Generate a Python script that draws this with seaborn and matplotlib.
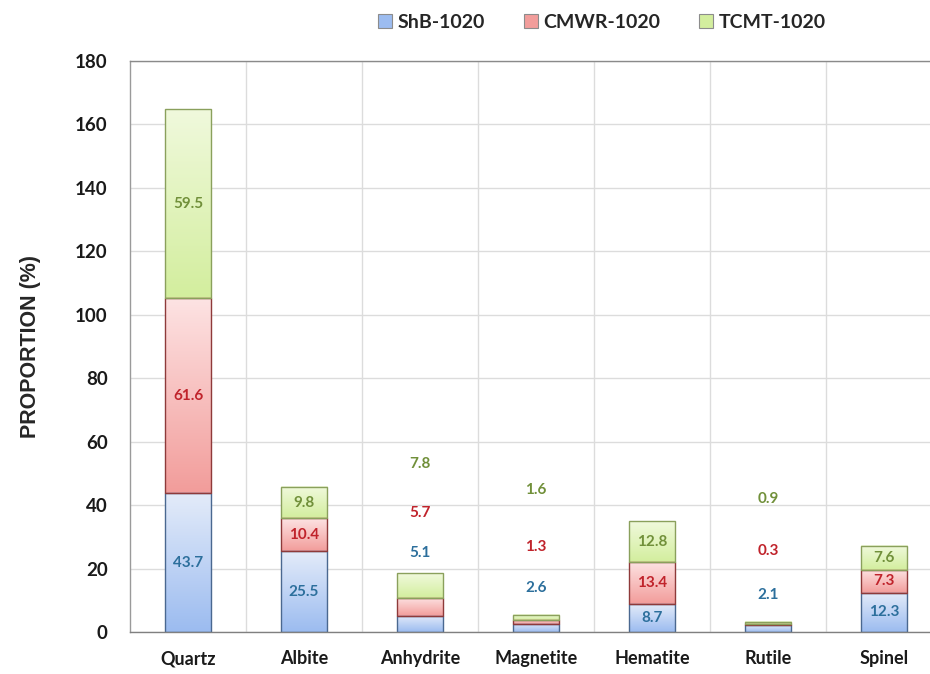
import matplotlib
matplotlib.use('Agg')
import matplotlib.pyplot as plt
import numpy as np
import pandas as pd
import seaborn as sns
from matplotlib.colors import LinearSegmentedColormap
from matplotlib.patches import Patch

minerals = ['Quartz', 'Albite', 'Anhydrite', 'Magnetite', 'Hematite', 'Rutile', 'Spinel']
shb = [43.7, 25.5, 5.1, 2.6, 8.7, 2.1, 12.3]
cmwr = [61.6, 10.4, 5.7, 1.3, 13.4, 0.3, 7.3]
tcmt = [59.5, 9.8, 7.8, 1.6, 12.8, 0.9, 7.6]
series_names = ['ShB-1020', 'CMWR-1020', 'TCMT-1020']

# labels of the thin bars float above them instead of sitting inside
float_label_y = {
    'Anhydrite': [25.0, 37.5, 53.0],
    'Magnetite': [13.8, 26.9, 44.9],
    'Rutile': [11.7, 25.6, 41.8],
}

styles = [
    dict(top='#e3ebf9', bottom='#9cbcf0', edge='#4a6890', text='#2c6f9c'),
    dict(top='#fde3e3', bottom='#f29d9b', edge='#8e3a3a', text='#c0232b'),
    dict(top='#f0f9dc', bottom='#d3ee9e', edge='#8aa05c', text='#71903a'),
]

sns.set_theme(style='white')
plt.rcParams['font.family'] = ['Lato', 'DejaVu Sans']

fig = plt.figure(figsize=(9.3, 6.74), dpi=100)
ax = fig.add_axes([130 / 930, 42 / 674, 812 / 930, 571 / 674])

df = pd.DataFrame({'mineral': minerals, 'ShB': shb, 'CMWR': cmwr, 'TCMT': tcmt})
cols = ['ShB', 'CMWR', 'TCMT']
bottoms = np.zeros(len(minerals))

for col, st in zip(cols, styles):
    sns.barplot(data=df, x='mineral', y=col, order=minerals, color=st['bottom'],
                width=0.405, ax=ax, errorbar=None)
    cont = ax.containers[-1]
    cmap = LinearSegmentedColormap.from_list('g', [st['bottom'], st['top']])
    grad = np.linspace(0, 1, 64).reshape(-1, 1)
    for bar, b in zip(cont.patches, bottoms):
        bar.set_y(b)
        bar.set_facecolor('none')
        bar.set_edgecolor(st['edge'])
        bar.set_linewidth(1.0)
        bar.set_zorder(4)
        x0, w, h = bar.get_x(), bar.get_width(), bar.get_height()
        ax.imshow(grad, extent=[x0, x0 + w, b, b + h], origin='lower', cmap=cmap,
                  aspect='auto', zorder=3, interpolation='bicubic')
    bottoms = bottoms + df[col].to_numpy()

# value labels
cum = np.zeros(len(minerals))
for k, (col, st) in enumerate(zip(cols, styles)):
    vals = df[col].to_numpy()
    for i, m in enumerate(minerals):
        if m in float_label_y:
            y = float_label_y[m][k]
        else:
            y = cum[i] + vals[i] / 2
        ax.text(i, y, f'{vals[i]:.1f}', ha='center', va='center', fontsize=11,
                fontweight='bold', color=st['text'], zorder=6)
    cum = cum + vals

ax.set_xlim(-0.5, len(minerals) - 0.5)
ax.set_ylim(0, 180)
ax.set_yticks(np.arange(0, 181, 20))
ax.set_xticks(np.arange(len(minerals) - 1) + 0.5, minor=True)
ax.grid(True, axis='y', which='major', color='#dcdcdc', linewidth=1.0, zorder=0)
ax.grid(True, axis='x', which='minor', color='#dcdcdc', linewidth=1.0, zorder=0)
ax.grid(False, axis='x', which='major')
ax.set_axisbelow(True)

ax.set_xlabel('')
ax.set_ylabel('PROPORTION (%)', fontsize=15.5, fontweight='bold',
              family=['Liberation Sans', 'DejaVu Sans'])
ax.yaxis.set_label_coords(-0.11, 0.5)
ax.tick_params(axis='x', which='both', length=0, pad=13, labelsize=13)
ax.tick_params(axis='y', length=0, pad=16, labelsize=13.5)
for lbl in ax.get_xticklabels() + ax.get_yticklabels():
    lbl.set_fontweight('bold')
    lbl.set_color('#1a1a1a')

for side in ['top', 'right', 'left', 'bottom']:
    ax.spines[side].set_visible(True)
ax.spines['top'].set_color('#8a8a8a')
ax.spines['left'].set_color('#9a9a9a')
ax.spines['bottom'].set_color('#808080')
ax.spines['right'].set_color('#cccccc')
for s in ax.spines.values():
    s.set_linewidth(1.0)
    s.set_zorder(5)

handles = [Patch(facecolor=st['bottom'], edgecolor='#8c8c8c', linewidth=0.8) for st in styles]
fig.legend(handles, series_names, loc='center', bbox_to_anchor=(602 / 930, 1 - 22 / 674),
           ncol=3, frameon=False, prop={'weight': 'bold', 'size': 14},
           handlelength=0.7, handleheight=0.7, handletextpad=0.3, columnspacing=2.0)

fig.savefig('out.png', dpi=100)
